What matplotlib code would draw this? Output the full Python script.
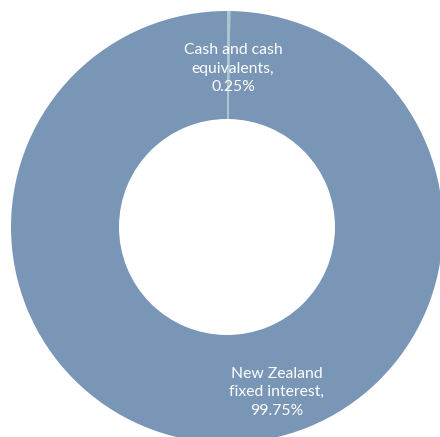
import matplotlib.pyplot as plt

labels = ["Cash and cash\nequivalents,\n0.25%", "New Zealand\nfixed interest,\n99.75%"]
values = [0.25, 99.75]
colors = ["#a9c7cd", "#7a96b7"]

plt.rcParams["font.family"] = ["Lato", "DejaVu Sans"]

fig = plt.figure(figsize=(4.4, 4.37), dpi=100)
ax = fig.add_axes([0, 0, 1, 1])
ax.axis("off")

ax.pie(values, colors=colors, startangle=90, counterclock=False,
       radius=1.0, wedgeprops=dict(width=0.5, linewidth=0))

# label spots (relative to the pie centre, in radius units)
ax.text(0.028, 0.733, labels[0], ha="center", va="center",
        color="white", fontsize=11.3, linespacing=1.42)
ax.text(0.23, -0.765, labels[1], ha="center", va="center",
        color="white", fontsize=11.3, linespacing=1.42)

cx, cy, r = 227, 227, 216
ax.set_xlim(-cx / r, (440 - cx) / r)
ax.set_ylim(-(437 - cy) / r, cy / r)
ax.set_aspect("auto")

fig.savefig("out.png", dpi=100)
